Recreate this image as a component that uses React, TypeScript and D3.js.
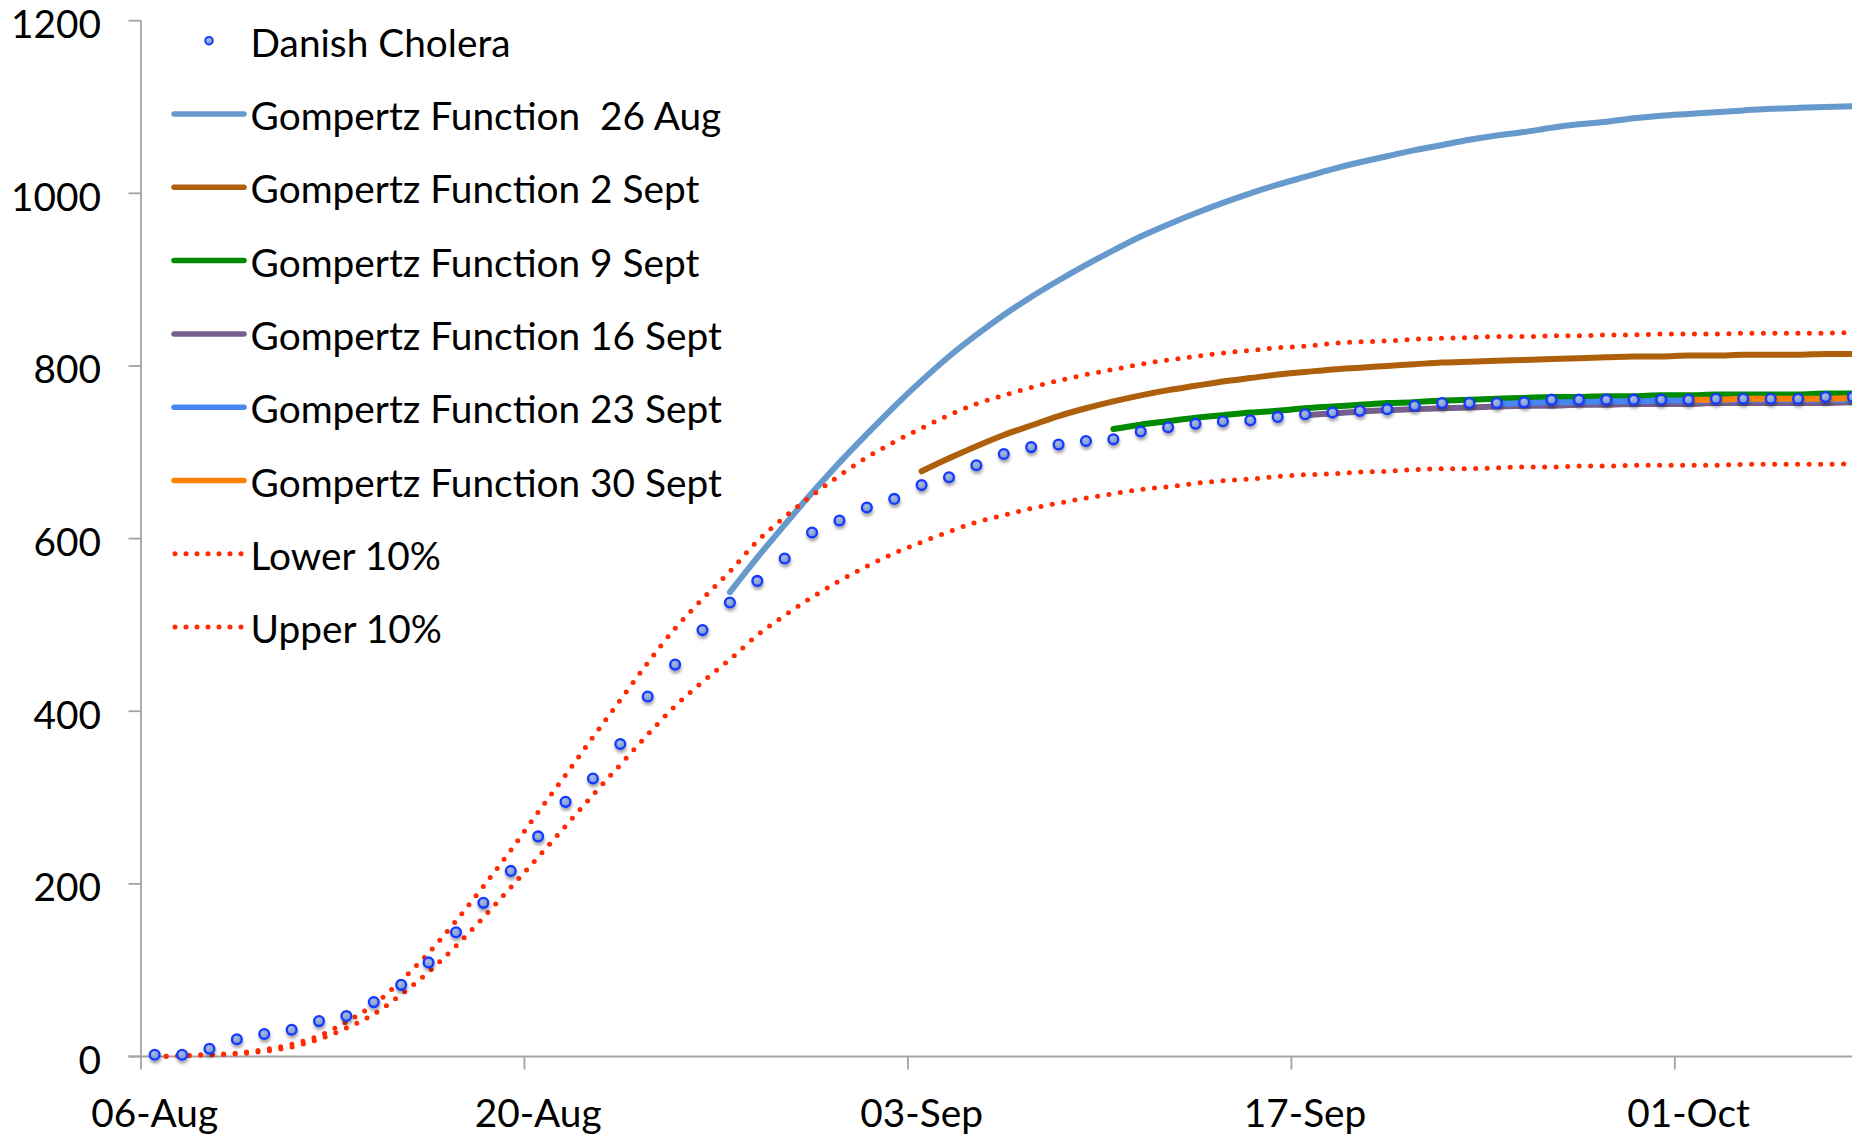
import React from "react";
import * as d3 from "d3";

// days counted from 06-Aug-1853, points sit in the middle of each day
const startDate = new Date(Date.UTC(1853, 7, 6));
const tickDays = [0, 14, 28, 42, 56];
const yTicks = [0, 200, 400, 600, 800, 1000, 1200];

const danishCholera = [
  2, 2, 9, 20, 26, 31, 41, 47, 63, 83, 109, 144, 178, 215, 255, 295, 322, 362, 417, 454,
  494, 526, 551, 577, 607, 621, 636, 646, 662, 671, 685, 698, 706, 709, 713, 715, 724, 729,
  733, 736, 737, 741, 744, 746, 748, 750, 754, 757, 757, 757, 758, 761, 761, 761, 761, 761,
  761, 762, 762, 762, 762, 764, 764,
];

// start day of each fitted curve
const fitStarts = [21, 28, 35, 42, 49, 56];

const gompertz26Aug = [
  538, 578, 616, 653, 688, 721, 753, 783, 811, 836, 859, 880, 899, 917, 934, 950, 964, 977,
  989, 1000, 1010, 1019, 1028, 1036, 1043, 1050, 1056, 1062, 1067, 1071, 1076, 1080, 1083,
  1087, 1090, 1092, 1094, 1096, 1098, 1099, 1100, 1101,
];
const gompertz2Sep = [
  678, 693, 707, 720, 731, 742, 751, 759, 766, 772, 777, 782, 786, 790, 793, 796, 798, 800,
  802, 804, 805, 806, 807, 808, 809, 810, 811, 811, 812, 812, 813, 813, 813, 814, 814,
];
const gompertz9Sep = [
  727, 732, 736, 740, 743, 746, 748, 751, 753, 755, 757, 758, 760, 761, 762, 763, 764, 764,
  765, 765, 766, 766, 767, 767, 767, 767, 768, 768,
];
const gompertz16Sep = [
  743, 745, 747, 749, 750, 751, 752, 753, 754, 754, 755, 755, 756, 756, 756, 757, 757, 757,
  757, 757, 758,
];
const gompertz23Sep = [756, 757, 758, 758, 759, 759, 760, 760, 760, 761, 761, 761, 761, 761];
const gompertz30Sep = [761, 761, 762, 762, 762, 762, 763];

const lower10 = [
  0, 1, 2, 3, 6, 11, 20, 33, 49, 72, 98, 128, 161, 196, 231, 267, 303, 338, 373, 406, 434,
  460, 488, 511, 532, 551, 568, 583, 596, 608, 619, 627, 635, 641, 647, 652, 657, 660, 664,
  667, 669, 672, 674, 675, 677, 678, 680, 681, 681, 682, 683, 683, 684, 684, 685, 685, 685,
  685, 686, 686, 686, 686, 687,
];
const upper10 = [
  0, 1, 2, 4, 8, 14, 24, 40, 60, 88, 120, 157, 197, 239, 283, 326, 370, 413, 456, 496, 530,
  562, 597, 625, 650, 673, 694, 712, 728, 743, 756, 766, 775, 783, 790, 796, 802, 807, 811,
  815, 818, 821, 823, 826, 828, 829, 831, 832, 833, 834, 834, 835, 835, 836, 836, 837, 837,
  837, 838, 838, 838, 838, 839,
];

const fitNames = [
  "Gompertz Function  26 Aug",
  "Gompertz Function 2 Sept",
  "Gompertz Function 9 Sept",
  "Gompertz Function 16 Sept",
  "Gompertz Function 23 Sept",
  "Gompertz Function 30 Sept",
];
const fitColors = ["#6699cc", "#ad5f0c", "#008a00", "#765f8d", "#4986f0", "#ff8000"];
const fitValues = [gompertz26Aug, gompertz2Sep, gompertz9Sep, gompertz16Sep, gompertz23Sep, gompertz30Sep];
const boundNames = ["Lower 10%", "Upper 10%"];
const boundValues = [lower10, upper10];

const W = 1852;
const H = 1135;
const FONT = "Lato, 'Open Sans', sans-serif";
const RED = "#ff2a00";

const dayDate = (d: number) => d3.utcHour.offset(startDate, d * 24);

const x = d3
  .scaleUtc()
  .domain([startDate, dayDate(63)])
  .range([141, 141 + 63 * 27.39]);
const y = d3.scaleLinear().domain([0, 1200]).range([1056.5, 20.7]);
const px = (d: number) => x(dayDate(d + 0.5));

const fmt = d3.utcFormat("%d-%b");

const line = (start: number) =>
  d3
    .line<number>()
    .x((_, i) => px(start + i))
    .y((v) => y(v))
    .curve(d3.curveMonotoneX);

export default function App() {
  const legendRow = (i: number) => 40.7 + i * 73.3;
  const legendText = (label: string, i: number) => (
    <text
      x={250.6}
      y={legendRow(i) + 16}
      fontSize={38.8}
      fill="#000"
      style={{ whiteSpace: "pre" }}
    >
      {label}
    </text>
  );

  return (
    <>
      <style>{"body{margin:0}"}</style>
      <svg width={W} height={H} style={{ display: "block", fontFamily: FONT }}>
        <defs>
          <filter id="shadow" x="-50%" y="-50%" width="200%" height="250%">
            <feDropShadow dx="0.5" dy="3" stdDeviation="1.6" floodColor="#000" floodOpacity="0.35" />
          </filter>
          <radialGradient id="mk" cx="0.4" cy="0.35" r="0.7">
            <stop offset="0" stopColor="#a9bde3" />
            <stop offset="1" stopColor="#6f8fcc" />
          </radialGradient>
        </defs>

        {/* axes */}
        <g stroke="#a3a3a3" strokeWidth={1.8} fill="none">
          <line x1={141} x2={141} y1={y(1200)} y2={y(0)} />
          <line x1={128.5} x2={W + 20} y1={y(0)} y2={y(0)} />
          {yTicks.map((t) => (
            <line key={t} x1={128.5} x2={141} y1={y(t)} y2={y(t)} />
          ))}
          {tickDays.map((d) => (
            <line key={d} x1={x(dayDate(d))} x2={x(dayDate(d))} y1={y(0)} y2={y(0) + 13} />
          ))}
        </g>
        <g fontSize={38.8} fill="#000">
          {yTicks.map((t) => (
            <text key={t} x={101} y={y(t) + 17.5} textAnchor="end">
              {t}
            </text>
          ))}
          {tickDays.map((d) => (
            <text key={d} x={px(d)} y={1127} textAnchor="middle">
              {fmt(dayDate(d))}
            </text>
          ))}
        </g>

        {/* fitted curves */}
        {fitValues.map((vals, i) => (
          <path
            key={fitNames[i]}
            d={line(fitStarts[i])(vals) || ""}
            fill="none"
            stroke={fitColors[i]}
            strokeWidth={6}
            strokeLinecap="round"
          />
        ))}

        {/* 10% bounds */}
        {boundValues.map((vals, i) => (
          <path
            key={boundNames[i]}
            d={line(0)(vals) || ""}
            fill="none"
            stroke={RED}
            strokeWidth={5}
            strokeDasharray="0 11.5"
            strokeLinecap="round"
          />
        ))}

        {/* observed */}
        <g filter="url(#shadow)">
          {danishCholera.map((v, i) => (
            <circle
              key={i}
              cx={px(i)}
              cy={y(v)}
              r={4.9}
              fill="url(#mk)"
              stroke="#1238ff"
              strokeWidth={2.3}
            />
          ))}
        </g>

        {/* legend */}
        <g>
          <circle cx={209} cy={legendRow(0)} r={3.8} fill="url(#mk)" stroke="#1238ff" strokeWidth={1.9} />
          {legendText("Danish Cholera", 0)}
          {fitNames.map((n, i) => (
            <g key={n}>
              <line
                x1={174}
                x2={244}
                y1={legendRow(i + 1)}
                y2={legendRow(i + 1)}
                stroke={fitColors[i]}
                strokeWidth={5.5}
                strokeLinecap="round"
              />
              {legendText(n, i + 1)}
            </g>
          ))}
          {boundNames.map((n, i) => (
            <g key={n}>
              <line
                x1={175}
                x2={242}
                y1={legendRow(i + 7)}
                y2={legendRow(i + 7)}
                stroke={RED}
                strokeWidth={5}
                strokeDasharray="0 11"
                strokeLinecap="round"
              />
              {legendText(n, i + 7)}
            </g>
          ))}
        </g>
      </svg>
    </>
  );
}
